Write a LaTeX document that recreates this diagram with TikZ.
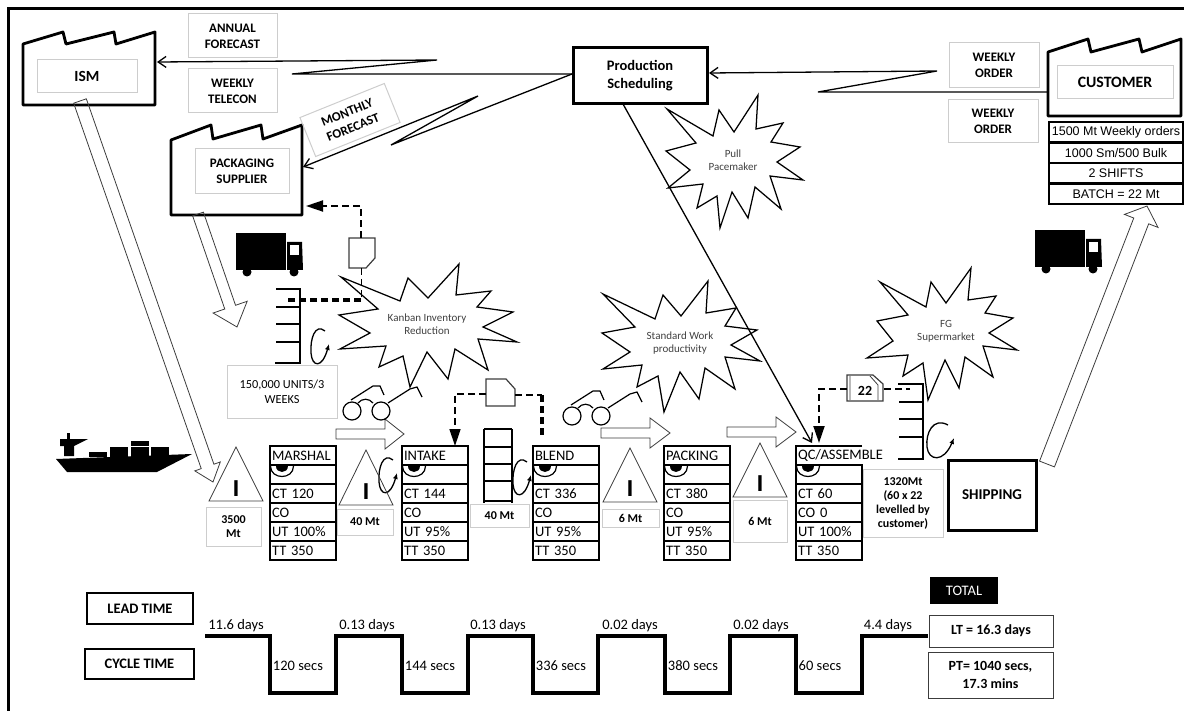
\documentclass[tikz,border=0pt]{standalone}
\usepackage{fontspec}
\setmainfont{Carlito}
\newfontfamily\arialfont{Liberation Sans}
\usepackage{xcolor}
\usetikzlibrary{arrows.meta,positioning,calc}
\definecolor{lblgray}{RGB}{205,205,205}
\definecolor{inkgray}{RGB}{60,60,60}
\newcommand{\fsz}[2]{\fontsize{#1}{#2}\selectfont}
\tikzset{
  lbl/.style={draw=lblgray, line width=1, align=center, inner sep=0pt, font=\fsz{13}{16}\bfseries},
  heavybox/.style={draw, line width=3, align=center, inner sep=0pt, font=\fsz{14.5}{17.5}\bfseries},
  totalbox/.style={draw=inkgray, line width=1, align=center, inner sep=0pt, font=\fsz{14}{18}\bfseries},
  factory/.style={draw, line width=2.8, line join=round},
  cell/.style={line width=2.2, minimum width=66pt, minimum height=19pt, text width=62pt, inner xsep=2pt, inner ysep=0pt, outer sep=0pt, align=left, font=\fsz{14.5}{15}},
  rowcell/.style={draw, line width=2.5, minimum width=134pt, minimum height=20.5pt, inner sep=0pt, outer sep=0pt, font=\arialfont\fsz{12.5}{14}},
  burst/.style={draw, line width=1.25, line join=miter},
  bursttext/.style={align=center, inner sep=0pt, text=black!75, font=\fsz{11}{13}},
  invtri/.style={draw=inkgray, line width=0.8},
  invmark/.style={inner sep=0pt, font=\arialfont\fsz{23}{23}\bfseries},
  info/.style={draw, line width=1.3, -{Straight Barb[length=8pt,width=11pt]}},
  kanban/.style={draw, line width=1.9, dash pattern=on 7pt off 4pt},
  kanbanhead/.style={-{Triangle[length=17pt,width=11pt]}},
  push/.style={draw=inkgray, line width=0.8, line join=miter},
  time/.style={inner sep=0pt, font=\fsz{14.5}{16}},
}
% hollow push arrow: tail, tip, shaft half width, head half width, head length
\newcommand{\pusharrow}[5]{
  \draw[push] ($(#1)!#3pt!90:(#2)$) -- ($($(#2)!#5pt!(#1)$)!#3pt!-90:(#1)$) -- ($($(#2)!#5pt!(#1)$)!#4pt!-90:(#1)$) -- (#2)
    -- ($($(#2)!#5pt!(#1)$)!#4pt!90:(#1)$) -- ($($(#2)!#5pt!(#1)$)!#3pt!90:(#1)$) -- ($(#1)!#3pt!-90:(#2)$) -- cycle;
}
% process stack: cell option, name, left edge, title, CT, CO, UT
\newcommand{\vsmstack}[7][draw]{
  \node[cell, #1, anchor=north west] (#2a) at (#3,446) {#4};
  \node[cell, draw, below=0pt of #2a] (#2b) {};
  \node[cell, draw, below=0pt of #2b] (#2c) {#5};
  \node[cell, draw, below=0pt of #2c] (#2d) {#6};
  \node[cell, draw, below=0pt of #2d] (#2e) {#7};
  \node[cell, draw, below=0pt of #2e] (#2f) {TT 350};
  \begin{scope}[shift={(#2b.north west)}]
    \fill (6,1) .. controls (6,9) and (18,9) .. (18,1) -- cycle;
    \draw[line width=1.2] (0.5,1) .. controls (0.5,15) and (23.5,15) .. (23.5,1);
  \end{scope}
}
\newcommand{\pullloop}[3][scale=1]{
  \begin{scope}[shift={(#2,#3)}, #1]
    \draw[line width=1.3, -{Latex[length=6pt,width=5pt]}] (0,0) .. controls (-10,-8) and (-15,8) .. (-14,22) .. controls (-13,36) and (-3,38) .. (4,13);
  \end{scope}
}
\newcommand{\glasses}[2]{
  \begin{scope}[shift={(#1,#2)}, line width=1.2]
    \draw (0,0) circle[radius=9pt];
    \draw (29,0) circle[radius=9pt];
    \draw (6,-8) .. controls (10,-13) and (17,-13) .. (21,-8);
    \draw (-1,-11) -- (21,-25) -- (28,-25) -- (32,-16);
    \draw (36,-8) -- (58,-22) -- (65,-24) -- (70,-14);
  \end{scope}
}
\newcommand{\truck}[2]{
  \begin{scope}[shift={(#1,#2)}]
    \fill (0,0) rectangle (50,37);
    \fill (51,9) -- (66,9) -- (67,37) -- (51,37) -- cycle;
    \fill[white] (54,12) rectangle (63,22);
    \fill (11,39) circle[radius=4.5pt];
    \fill (58,39) circle[radius=4.5pt];
  \end{scope}
}
\begin{document}
\begin{tikzpicture}[x=1pt, y=-1pt, node distance=0pt]
  \useasboundingbox (0,0) rectangle (1184,711);
  % Frame
  \draw[line width=3] (8,711) -- (8,9) -- (1184,9);

  % Factories
  \draw[factory] (23,44) -- (63,32) -- (66,44) -- (114,32) -- (116,44) -- (155,32) -- (155,105) -- (23,105) -- cycle;
  \node[lbl, minimum width=100pt, minimum height=33pt, font=\fsz{15.5}{17}\bfseries] (ism) at (87,76.5) {ISM};
  \draw[factory] (171,140) -- (211,125) -- (213,139) -- (261,125) -- (263,139) -- (302,125) -- (302,215) -- (171,215) -- cycle;
  \node[lbl, minimum width=94pt, minimum height=45pt] (pack) at (242,171.5) {PACKAGING\\SUPPLIER};
  \draw[factory] (1048,52) -- (1088,39) -- (1091,52) -- (1139,39) -- (1142,52) -- (1181,39) -- (1181,116) -- (1048,116) -- cycle;
  \node[lbl, minimum width=116pt, minimum height=33pt, font=\fsz{15.8}{17}\bfseries] (cust) at (1115,82.5) {CUSTOMER};

  % Customer table
  \node[rowcell, anchor=north west] (row1) at (1049,122) {1500 Mt Weekly orders};
  \node[rowcell, below=0pt of row1] (row2) {1000 Sm/500 Bulk};
  \node[rowcell, below=0pt of row2] (row3) {2 SHIFTS};
  \node[rowcell, below=0pt of row3] (row4) {BATCH = 22 Mt};

  % Scheduling and its labels
  \node[heavybox, minimum width=134pt, minimum height=56pt] (prod) at (640,75.5) {Production\\Scheduling};
  \node[lbl, minimum width=89pt, minimum height=44pt] (annual) at (232.5,36) {ANNUAL\\FORECAST};
  \node[lbl, minimum width=89pt, minimum height=44pt] (telecon) at (232.5,91) {WEEKLY\\TELECON};
  \node[lbl, minimum width=91pt, minimum height=42pt, rotate=22] (monthly) at (350,120) {MONTHLY\\FORECAST};
  \node[lbl, minimum width=90pt, minimum height=45pt] (order1) at (994,65.5) {WEEKLY\\ORDER};
  \node[lbl, minimum width=90pt, minimum height=43pt] (order2) at (993,121.5) {WEEKLY\\ORDER};

  % Information flows
  \coordinate (ismin) at (157,62);
  \coordinate (packin) at (303,167);
  \coordinate (custout) at (1048,92);
  \coordinate (qcin) at (812,443);
  \coordinate (zig1) at (292,74);
  \coordinate (zig2) at (437,60);
  \coordinate (zig3) at (391,145);
  \coordinate (zig4) at (478,96);
  \coordinate (zig5) at (818,92);
  \coordinate (zig6) at (937,71);
  \coordinate (prodin) at (709,73);
  \coordinate (prodleft) at (572,74);
  \coordinate (prodbase) at (623,104);
  \draw[info] (prodleft) -- (zig1) -- (zig2) -- (ismin);
  \draw[info] (prodleft) -- (zig3) -- (zig4) -- (packin);
  \draw[info] (custout) -- (zig5) -- (zig6) -- (prodin);
  \draw[info] (prodbase) -- (qcin);

  % Starbursts
  \draw[burst] (667,109) -- (713,136) -- (719,110) -- (734,132) -- (758,95) -- (756,129) -- (783,123) -- (771,142) -- (800,147) -- (777,162) -- (803,180) -- (770,176) -- (781,209) -- (755,187) -- (748,218) -- (732,192) -- (720,228) -- (717,196) -- (697,208) -- (703,184) -- (668,188) -- (690,170) -- (666,151) -- (696,143) -- cycle;
  \node[bursttext] (pull) at (733,160) {Pull\\Pacemaker};
  \draw[burst] (341,277) -- (400,301) -- (408,278) -- (428,298) -- (459,264) -- (456,295) -- (491,291) -- (477,307) -- (513,312) -- (483,327) -- (517,342) -- (478,339) -- (488,370) -- (455,349) -- (448,379) -- (427,352) -- (410,387) -- (403,356) -- (379,367) -- (386,346) -- (340,349) -- (370,333) -- (339,315) -- (378,309) -- cycle;
  \node[bursttext] (kaizen1) at (427,324.5) {Kanban Inventory\\Reduction};
  \draw[burst] (603,294) -- (655,319) -- (663,295) -- (681,316) -- (708,281) -- (706,313) -- (736,308) -- (725,326) -- (757,330) -- (731,345) -- (760,361) -- (725,357) -- (735,389) -- (705,368) -- (699,399) -- (680,372) -- (664,412) -- (658,376) -- (637,387) -- (642,365) -- (603,369) -- (630,352) -- (602,333) -- (635,327) -- cycle;
  \node[bursttext] (kaizen2) at (680,343) {Standard Work\\productivity};
  \draw[burst] (880,282) -- (926,307) -- (931,282) -- (946,303) -- (971,268) -- (968,300) -- (996,296) -- (985,313) -- (1013,318) -- (989,333) -- (1017,350) -- (983,346) -- (993,377) -- (965,357) -- (959,388) -- (945,360) -- (928,400) -- (923,363) -- (903,376) -- (908,355) -- (867,358) -- (893,341) -- (877,321) -- (908,315) -- cycle;
  \node[bursttext] (kaizen3) at (946,331.5) {FG\\Supermarket};

  % Trucks and ship
  \truck{236}{233}
  \truck{1035}{230}
  \fill (56,459) -- (192,454) -- (157,472) -- (67,472) -- cycle;
  \fill (67,433) rectangle (70,439);
  \fill (60,439) -- (88,439) -- (74,446) -- (74,456) -- (64,456) -- (64,446) -- (60,446) -- cycle;
  \fill (89,452) rectangle (107,457);
  \fill (110,447) rectangle (128,457);
  \fill (131,441) rectangle (149,446);
  \fill (131,447) rectangle (149,457);
  \fill (151,447) rectangle (169,457);

  % Push arrows
  \coordinate (ismout) at (80,101);
  \coordinate (ismtip) at (213,482);
  \coordinate (packout) at (198,214);
  \coordinate (packtip) at (237,327);
  \coordinate (shipout) at (1047,464);
  \coordinate (custtip) at (1147,206);
  \coordinate (m1) at (336,434);
  \coordinate (m2) at (404,434);
  \coordinate (m3) at (601,433);
  \coordinate (m4) at (670,433);
  \coordinate (m5) at (727,432);
  \coordinate (m6) at (796,432);
  \pusharrow{ismout}{ismtip}{6.7}{13.5}{16.5}
  \pusharrow{packout}{packtip}{5.7}{18}{21}
  \pusharrow{shipout}{custtip}{8}{18}{16}
  \pusharrow{m1}{m2}{5}{15}{19}
  \pusharrow{m3}{m4}{5}{15}{20}
  \pusharrow{m5}{m6}{5}{15}{20}

  % Supermarkets
  \draw[line width=2.6] (276,289) -- (300,289) -- (300,363) -- (275,363);
  \draw[line width=2.6] (276,307) -- (300,307) (276,324) -- (300,324) (276,342) -- (300,342);
  \draw[line width=1.6] (484,429) -- (484,503) (512,429) -- (512,503);
  \draw[line width=2] (484,429) -- (512,429) (484,447) -- (512,447) (484,464) -- (512,464) (484,481) -- (512,481) (484,501) -- (512,501);
  \draw[line width=1.6] (898,384) -- (923,384) -- (923,459) -- (898,459);
  \draw[line width=1.6] (899,402) -- (923,402) (899,419) -- (923,419) (899,437) -- (923,437);

  % Kanban loops
  \draw[draw=inkgray, line width=1.2] (349,238) -- (375,238) -- (375,258) -- (366,268) -- (349,268) -- cycle;
  \coordinate (kb1top) at (361,238);
  \coordinate (kb1low) at (361,268);
  \coordinate (packkb) at (306,206);
  \coordinate (kb1bend) at (361,206);
  \coordinate (kb1mid) at (361,300);
  \coordinate (store1) at (286,300);
  \draw[kanban, kanbanhead] (kb1top) -- (kb1bend) -- (packkb);
  \draw[kanban, line width=1] (kb1low) -- (kb1mid);
  \draw[kanban, line width=3.2] (kb1mid) -- (store1);
  \draw[draw=inkgray, line width=1.2] (486,379) -- (506,379) -- (515,389) -- (515,406) -- (486,406) -- cycle;
  \coordinate (kb2left) at (486,394);
  \coordinate (kb2right) at (515,395);
  \coordinate (kb2bend) at (455,394);
  \coordinate (kb2turn) at (542,395);
  \coordinate (kb2low) at (542,435);
  \coordinate (intakein) at (455,446);
  \draw[kanban, line width=1.4, kanbanhead] (kb2left) -- (kb2bend) -- (intakein);
  \draw[kanban, line width=1.4] (kb2right) -- (kb2turn);
  \draw[kanban, line width=3.2] (kb2turn) -- (kb2low);
  \draw[draw=inkgray, line width=1.2] (847,375) -- (873,375) -- (883,384) -- (883,401) -- (847,401) -- cycle;
  \draw[draw=inkgray, line width=0.8] (870,376) -- (878,385) -- (878,400) (850,376) -- (850,400);
  \node[inner sep=0pt, font=\fsz{14}{16}\bfseries] (kb3) at (865,391) {22};
  \coordinate (kb3left) at (847,389);
  \coordinate (kb3right) at (884,389);
  \coordinate (kb3bend) at (819,389);
  \coordinate (qckb) at (819,443);
  \coordinate (store3) at (910,389);
  \draw[kanban, kanbanhead] (kb3left) -- (kb3bend) -- (qckb);
  \draw[kanban] (kb3right) -- (store3);
  \pullloop{325}{331}
  \pullloop{393}{460}
  \pullloop{527}{462}
  \pullloop[xscale=1.5]{948}{425}

  % Process stacks
  \vsmstack{marshal}{270}{MARSHAL}{CT 120}{CO}{UT 100\%}
  \vsmstack{intake}{402}{INTAKE}{CT 144}{CO}{UT 95\%}
  \vsmstack{blend}{533}{BLEND}{CT 336}{CO}{UT 95\%}
  \vsmstack{packing}{664}{PACKING}{CT 380}{CO}{UT 95\%}
  \vsmstack[draw=none]{qc}{796}{QC/ASSEMBLE}{CT 60}{CO 0}{UT 100\%}
  \draw[line width=2.2] (qca.north east) -- (qca.north west) -- (qca.south west);
  \glasses{352}{411}
  \glasses{572}{416}

  % Inventory
  \draw[invtri] (236,447) -- (209,501) -- (263,501) -- cycle;
  \node[invmark] (inv1) at (236,488.5) {I};
  \draw[invtri] (366,450) -- (339,505) -- (393,505) -- cycle;
  \node[invmark] (inv2) at (366,491.5) {I};
  \draw[invtri] (630,448) -- (603,502) -- (657,502) -- cycle;
  \node[invmark] (inv3) at (630,489) {I};
  \draw[invtri] (760,443) -- (733,497) -- (787,497) -- cycle;
  \node[invmark] (inv4) at (760,484) {I};
  \node[lbl, minimum width=55pt, minimum height=39pt, font=\fsz{12}{14}\bfseries] (qty1) at (233.5,526.5) {3500\\Mt};
  \node[lbl, minimum width=56pt, minimum height=26pt, font=\fsz{12}{14}\bfseries] (qty2) at (365,522) {40 Mt};
  \node[lbl, minimum width=59pt, minimum height=23pt, font=\fsz{12}{14}\bfseries] (qty3) at (499.5,515.5) {40 Mt};
  \node[lbl, minimum width=57pt, minimum height=18pt, font=\fsz{12}{14}\bfseries] (qty4) at (630.5,518) {6 Mt};
  \node[lbl, minimum width=54pt, minimum height=42pt, font=\fsz{12}{14}\bfseries] (qty5) at (760,521) {6 Mt};
  \node[lbl, minimum width=80pt, minimum height=68pt, font=\fsz{12}{14}\bfseries] (qty6) at (903,503) {1320Mt\\(60 x 22\\levelled by\\customer)};
  \node[lbl, minimum width=110pt, minimum height=52pt, font=\fsz{12.3}{15}] (units) at (282,392) {150,000 UNITS/3\\WEEKS};
  \node[heavybox, minimum width=88pt, minimum height=70pt, font=\fsz{15}{17}\bfseries] (ship) at (992,495) {SHIPPING};

  % Timeline
  \node[heavybox, line width=2.5, minimum width=106pt, minimum height=31pt] (lead) at (140,608.5) {LEAD TIME};
  \node[heavybox, line width=2.5, minimum width=109pt, minimum height=30pt] (cycle) at (139.5,664) {CYCLE TIME};
  \node[fill=black, text=white, minimum width=68pt, minimum height=27pt, inner sep=0pt, font=\fsz{14.5}{16}] (total) at (964,590.5) {TOTAL};
  \node[totalbox, minimum width=124pt, minimum height=32pt] (lt) at (991,631) {LT = 16.3 days};
  \node[totalbox, minimum width=125pt, minimum height=46pt] (pt) at (990.5,675) {PT= 1040 secs,\\17.3 mins};
  \coordinate (ltstart) at (205,636);
  \coordinate (ltend) at (928,636);
  \draw[line width=3.5] (ltstart) -| (270,693) -| (336,636) -| (402,693) -| (468,636) -| (533,693) -| (598,636) -| (665,693) -| (730,636) -| (796,693) -| (862,636) -- (ltend);
  \foreach \x/\n/\t in {236/d1/11.6 days, 367/d2/0.13 days, 498/d3/0.13 days, 630/d4/0.02 days, 761/d5/0.02 days, 888/d6/4.4 days}
    \node[time] (\n) at (\x,626) {\t};
  \foreach \x/\n/\t in {298/s1/120 secs, 430/s2/144 secs, 561/s3/336 secs, 693/s4/380 secs, 820/s5/60 secs}
    \node[time] (\n) at (\x,666) {\t};
\end{tikzpicture}
\end{document}
